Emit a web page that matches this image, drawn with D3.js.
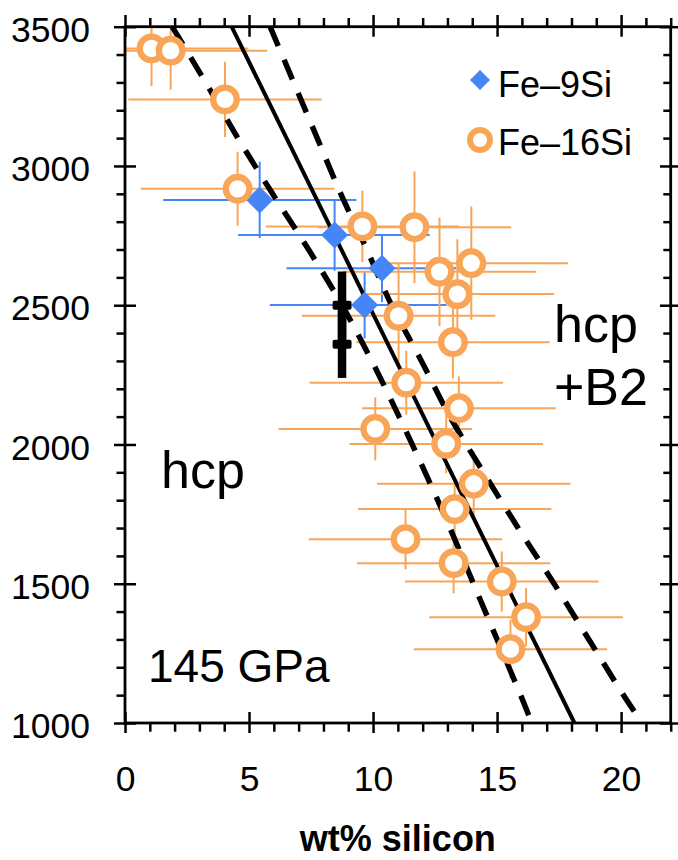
<!DOCTYPE html>
<html>
<head>
<meta charset="utf-8">
<script src="https://cdn.jsdelivr.net/npm/d3@7"></script>
<style>
  html, body { margin: 0; padding: 0; background: #fff; }
  svg { display: block; }
  text { font-family: "Liberation Sans", Arial, Helvetica, sans-serif; fill: #000; }
</style>
</head>
<body>
<svg id="chart" width="678" height="860"></svg>
<script>
// Fe-9Si measurements (blue diamonds)
const fe9Si      = [5.43, 8.45, 10.36, 9.66];
const fe9T       = [2878, 2752, 2633, 2501];
const fe9SiErrLo = [3.89, 3.89, 3.85, 3.82];
const fe9SiErrHi = [3.90, 3.83, 3.00, 3.30];
const fe9TErr    = [137, 128, 122, 120];

// Fe-16Si measurements (orange open circles)
const fe16Si    = [1.07, 1.84, 4.03, 4.54, 9.57, 11.67, 12.68, 13.96, 13.40, 11.03, 13.22,
                   11.34, 13.46, 10.09, 12.95, 14.06, 13.29, 11.31, 13.25, 15.19, 16.17, 15.54];
const fe16T     = [3422, 3414, 3239, 2918, 2783, 2780, 2620, 2651, 2540, 2462, 2367,
                   2222, 2130, 2056, 2002, 1859, 1768, 1660, 1574, 1508, 1380, 1265];
const fe16SiErr = [3.9, 3.9, 3.9, 3.9, 3.9, 3.9, 3.9, 3.9, 3.9, 3.9, 3.9,
                   3.9, 3.9, 3.9, 3.9, 3.9, 3.9, 3.9, 3.9, 3.9, 3.9, 3.9];
const fe16TErr  = [135, 140, 135, 133, 128, 200, 195, 203, 197, 190, 130,
                   115, 115, 113, 105, 116, 100, 108, 108, 108, 105, 105];

// Reference bracket (black)
const refSi   = [8.75, 8.75];
const refT    = [2500, 2360];
const refTErr = [121, 121];

// Phase boundary: best fit (solid) and bounds (dashed)
const fitSi   = [4.3, 18.12];
const fitT    = [3500, 1000];
const boundT  = [3500, 3300, 3100, 2900, 2700, 2500, 2300, 2100, 1900, 1700, 1500, 1300, 1100, 1000];
const lowerSi = [1.9, 3.25, 4.55, 5.95, 7.4, 8.75, 9.95, 11.05, 12.1, 13.1, 14.05, 15.0, 15.95, 16.4];
const upperSi = [5.85, 6.8, 7.75, 8.7, 9.75, 10.75, 11.95, 13.1, 14.45, 15.85, 17.3, 18.7, 20.1, 20.85];

// Axis ticks
const xMajor = [0, 5, 10, 15, 20];
const xMinor = [1, 2, 3, 4, 6, 7, 8, 9, 11, 12, 13, 14, 16, 17, 18, 19, 21, 22];
const yMajor = [1000, 1500, 2000, 2500, 3000, 3500];
const yMinor = [1100, 1200, 1300, 1400, 1600, 1700, 1800, 1900, 2100, 2200, 2300, 2400,
                2600, 2700, 2800, 2900, 3100, 3200, 3300, 3400];

const BLUE = "#4685f5";
const ORANGE = "#f9a557";

const L = 125, R = 670.7, T = 26.7, B = 723;
const x = d3.scaleLinear().domain([0, 22]).range([L, R]);
const y = d3.scaleLinear().domain([1000, 3500]).range([B, T]);

const svg = d3.select("#chart");

svg.append("defs").append("clipPath").attr("id", "plotClip")
  .append("rect").attr("x", L).attr("y", T).attr("width", R - L).attr("height", B - T);

const plot = svg.append("g").attr("clip-path", "url(#plotClip)");

// error bars
function errorBars(g, xs, ys, xlo, xhi, yerr, color) {
  const idx = d3.range(xs.length);
  g.selectAll(null).data(idx).join("line")
    .attr("x1", i => x(xs[i] - xlo[i])).attr("x2", i => x(xs[i] + xhi[i]))
    .attr("y1", i => y(ys[i])).attr("y2", i => y(ys[i]))
    .attr("stroke", color).attr("stroke-width", 2);
  g.selectAll(null).data(idx).join("line")
    .attr("x1", i => x(xs[i])).attr("x2", i => x(xs[i]))
    .attr("y1", i => y(ys[i] - yerr[i])).attr("y2", i => y(ys[i] + yerr[i]))
    .attr("stroke", color).attr("stroke-width", 2);
}
errorBars(plot.append("g"), fe9Si, fe9T, fe9SiErrLo, fe9SiErrHi, fe9TErr, BLUE);
errorBars(plot.append("g"), fe16Si, fe16T, fe16SiErr, fe16SiErr, fe16TErr, ORANGE);

// boundary curves
const line = d3.line().x(d => x(d[0])).y(d => y(d[1])).curve(d3.curveCatmullRom.alpha(0.5));
plot.append("path").datum(d3.zip(lowerSi, boundT)).attr("d", line)
  .attr("fill", "none").attr("stroke", "#000").attr("stroke-width", 5.5).attr("stroke-dasharray", "21,15");
plot.append("path").datum(d3.zip(upperSi, boundT)).attr("d", line)
  .attr("fill", "none").attr("stroke", "#000").attr("stroke-width", 5.5).attr("stroke-dasharray", "21,15");
plot.append("path").datum(d3.zip(fitSi, fitT)).attr("d", d3.line().x(d => x(d[0])).y(d => y(d[1])))
  .attr("fill", "none").attr("stroke", "#000").attr("stroke-width", 4);

// black reference bracket
const ref = plot.append("g");
refSi.forEach((s, i) => {
  ref.append("line")
    .attr("x1", x(s)).attr("x2", x(s))
    .attr("y1", y(refT[i] + refTErr[i])).attr("y2", y(refT[i] - refTErr[i]))
    .attr("stroke", "#000").attr("stroke-width", 8.5);
  ref.append("rect")
    .attr("x", x(s) - 9.5).attr("y", y(refT[i]) - 4.5)
    .attr("width", 19).attr("height", 9).attr("rx", 2).attr("fill", "#000");
});

// markers
const diamond = d3.symbol().type(d3.symbolSquare).size(365);
plot.append("g").selectAll("path").data(d3.range(fe9Si.length)).join("path")
  .attr("d", diamond)
  .attr("transform", i => `translate(${x(fe9Si[i])},${y(fe9T[i])}) rotate(45)`)
  .attr("fill", BLUE);
plot.append("g").selectAll("circle").data(d3.range(fe16Si.length)).join("circle")
  .attr("cx", i => x(fe16Si[i])).attr("cy", i => y(fe16T[i])).attr("r", 11.8)
  .attr("fill", "#fff").attr("stroke", ORANGE).attr("stroke-width", 6.3);

// axes
function styleAxis(g) {
  g.select(".domain").remove();
  g.selectAll(".tick line").attr("stroke", "#000").attr("stroke-width", 2.5);
  g.selectAll(".tick text").attr("font-size", 35.5)
    .attr("font-family", '"Liberation Sans", Arial, sans-serif').attr("fill", "#000");
  g.attr("font-family", null).attr("font-size", null);
}
const none = () => "";
// left
svg.append("g").attr("transform", `translate(${L},0)`)
  .call(d3.axisLeft(y).tickValues(yMajor).tickSize(11).tickPadding(24).tickFormat(d3.format("d")))
  .call(styleAxis).call(g => g.selectAll(".tick text").attr("dy", "0.41em"));
svg.append("g").attr("transform", `translate(${L},0)`)
  .call(d3.axisRight(y).tickValues(yMajor).tickSize(11).tickFormat(none)).call(styleAxis);
svg.append("g").attr("transform", `translate(${L},0)`)
  .call(d3.axisLeft(y).tickValues(yMinor).tickSize(8.5).tickFormat(none)).call(styleAxis);
// right
svg.append("g").attr("transform", `translate(${R},0)`)
  .call(d3.axisRight(y).tickValues(yMajor).tickSize(7.3).tickFormat(none)).call(styleAxis);
svg.append("g").attr("transform", `translate(${R},0)`)
  .call(d3.axisLeft(y).tickValues(yMajor).tickSize(10.7).tickFormat(none)).call(styleAxis);
svg.append("g").attr("transform", `translate(${R},0)`)
  .call(d3.axisLeft(y).tickValues(yMinor).tickSize(7.4).tickFormat(none)).call(styleAxis);
// bottom
svg.append("g").attr("transform", `translate(0,${B})`)
  .call(d3.axisBottom(x).tickValues(xMajor).tickSize(10).tickPadding(33).tickFormat(d3.format("d")))
  .call(styleAxis);
svg.append("g").attr("transform", `translate(0,${B})`)
  .call(d3.axisTop(x).tickValues(xMajor).tickSize(11).tickFormat(none)).call(styleAxis);
svg.append("g").attr("transform", `translate(0,${B})`)
  .call(d3.axisBottom(x).tickValues(xMinor).tickSize(8.7).tickFormat(none)).call(styleAxis);
// top
svg.append("g").attr("transform", `translate(0,${T})`)
  .call(d3.axisTop(x).tickValues(xMajor).tickSize(11.7).tickFormat(none)).call(styleAxis);
svg.append("g").attr("transform", `translate(0,${T})`)
  .call(d3.axisBottom(x).tickValues(xMajor).tickSize(10).tickFormat(none)).call(styleAxis);
svg.append("g").attr("transform", `translate(0,${T})`)
  .call(d3.axisTop(x).tickValues(xMinor).tickSize(8.7).tickFormat(none)).call(styleAxis);

// frame
svg.append("rect").attr("x", L).attr("y", T).attr("width", R - L).attr("height", B - T)
  .attr("fill", "none").attr("stroke", "#000").attr("stroke-width", 2.8);

// axis title
svg.append("text").attr("x", (L + R) / 2).attr("y", 851).attr("text-anchor", "middle")
  .attr("font-size", 36).attr("font-weight", "bold").text("wt% silicon");

// region labels
svg.append("text").attr("x", 161).attr("y", 488).attr("font-size", 52).text("hcp");
svg.append("text").attr("x", 554).attr("y", 342).attr("font-size", 52).text("hcp");
svg.append("text").attr("x", 554).attr("y", 405).attr("font-size", 52).text("+B2");
svg.append("text").attr("x", 148).attr("y", 682).attr("font-size", 46).text("145 GPa");

// legend
const leg = svg.append("g");
leg.append("path").attr("d", d3.symbol().type(d3.symbolSquare).size(200))
  .attr("transform", "translate(480,80) rotate(45)").attr("fill", BLUE);
leg.append("text").attr("x", 498).attr("y", 97).attr("font-size", 36).text("Fe–9Si");
leg.append("circle").attr("cx", 480).attr("cy", 140).attr("r", 10)
  .attr("fill", "#fff").attr("stroke", ORANGE).attr("stroke-width", 6);
leg.append("text").attr("x", 498).attr("y", 155).attr("font-size", 36).text("Fe–16Si");
</script>
</body>
</html>
